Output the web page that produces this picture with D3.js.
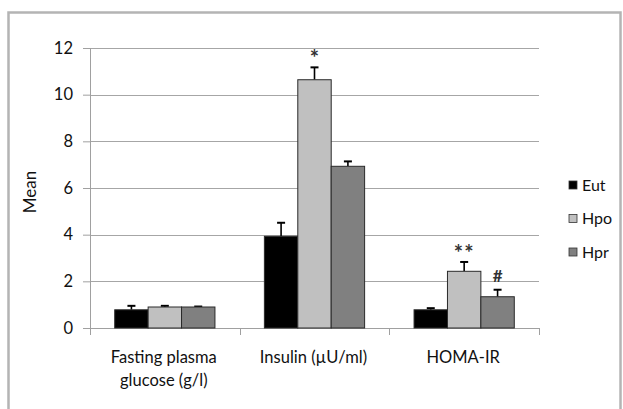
<!DOCTYPE html>
<html>
<head>
<meta charset="utf-8">
<script src="https://cdn.jsdelivr.net/npm/d3@7"></script>
<style>
  body { margin: 0; background: #fff; }
  svg { display: block; }
</style>
</head>
<body>
<div id="chart"></div>
<script>
  // data
  const categories = ["Fasting plasma glucose (g/l)", "Insulin (\u00b5U/ml)", "HOMA-IR"];
  const categoryLines = [["Fasting plasma", "glucose (g/l)"], ["Insulin (\u00b5U/ml)"], ["HOMA-IR"]];
  const seriesNames = ["Eut", "Hpo", "Hpr"];
  const eutMeans = [0.78, 3.93, 0.78];
  const hpoMeans = [0.90, 10.64, 2.43];
  const hprMeans = [0.90, 6.93, 1.34];
  const eutErr = [0.17, 0.58, 0.07];
  const hpoErr = [0.05, 0.53, 0.40];
  const hprErr = [0.02, 0.21, 0.30];
  const yTicks = [0, 2, 4, 6, 8, 10, 12];
  // significance marks: [category index, series index, label]
  const marks = [[1, 1, "*"], [2, 1, "**"], [2, 2, "#"]];

  // config
  const width = 623;
  const height = 409;
  const margin = { top: 48, bottom: 81, left: 90, right: 84 };
  const colors = ["#000000", "#c0c0c0", "#808080"];
  const font = "Lato, 'Open Sans', sans-serif";

  const means = [eutMeans, hpoMeans, hprMeans];
  const errs = [eutErr, hpoErr, hprErr];
  const rows = [];
  categories.forEach((c, ci) => {
    seriesNames.forEach((s, si) => {
      rows.push({ cat: c, ci: ci, series: s, si: si, value: means[si][ci], err: errs[si][ci] });
    });
  });

  // scales
  const x0 = d3.scaleBand()
    .domain(categories)
    .range([margin.left, width - margin.right])
    .paddingInner(0);

  const x1 = d3.scaleBand()
    .domain(seriesNames)
    .range([0, x0.bandwidth()])
    .paddingInner(0)
    .paddingOuter(0.74);

  const y = d3.scaleLinear()
    .domain([0, 12])
    .range([height - margin.bottom, margin.top]);

  const svg = d3.select("#chart")
    .append("svg")
    .attr("width", width)
    .attr("height", height);

  // frame
  svg.append("rect")
    .attr("x", 8.5)
    .attr("y", 12.5)
    .attr("width", 612)
    .attr("height", 420)
    .attr("fill", "none")
    .attr("stroke", "#b4b4b4")
    .attr("stroke-width", 2.5);

  // gridlines
  svg.append("g")
    .selectAll("line")
    .data(yTicks.filter(d => d > 0))
    .join("line")
    .attr("x1", margin.left)
    .attr("x2", width - margin.right)
    .attr("y1", d => Math.round(y(d)) + 0.5)
    .attr("y2", d => Math.round(y(d)) + 0.5)
    .attr("stroke", "#a6a6a6")
    .attr("stroke-width", 1.2);

  // y axis
  const yAxis = d3.axisLeft(y).tickValues(yTicks).tickSize(7).tickPadding(10);
  svg.append("g")
    .attr("transform", "translate(" + margin.left + ",0)")
    .call(yAxis)
    .call(g => g.select(".domain").attr("stroke", "#a0a0a0").attr("d", `M0.5,${y(12)}V${y(0)}`))
    .call(g => g.selectAll(".tick line").attr("stroke", "#a0a0a0"))
    .call(g => g.selectAll(".tick text")
      .attr("fill", "#111")
      .style("font-family", font)
      .style("font-size", "16.5px"));

  // x axis
  const xAxis = d3.axisBottom(x0).tickSize(0).tickFormat("");
  svg.append("g")
    .attr("transform", "translate(0," + y(0) + ")")
    .call(xAxis)
    .call(g => g.select(".domain").attr("stroke", "#a0a0a0").attr("d", `M${margin.left - 7},0.5H${width - margin.right}`));

  // x tick marks at category boundaries
  const bounds = categories.map(c => x0(c)).concat([x0(categories[categories.length - 1]) + x0.bandwidth()]);
  svg.append("g")
    .selectAll("line")
    .data(bounds)
    .join("line")
    .attr("x1", d => Math.round(d) + 0.5)
    .attr("x2", d => Math.round(d) + 0.5)
    .attr("y1", y(0))
    .attr("y2", y(0) + 7)
    .attr("stroke", "#a0a0a0");

  // category labels
  svg.append("g")
    .selectAll("text")
    .data(categories)
    .join("text")
    .attr("x", d => x0(d) + x0.bandwidth() / 2 - 1)
    .attr("y", y(0) + 35)
    .attr("text-anchor", "middle")
    .style("font-family", font)
    .style("font-size", "16.5px")
    .style("fill", "#111")
    .each(function (d, i) {
      d3.select(this).selectAll("tspan")
        .data(categoryLines[i])
        .join("tspan")
        .attr("x", x0(d) + x0.bandwidth() / 2 - 1)
        .attr("dy", (t, j) => j === 0 ? 0 : 23)
        .text(t => t);
    });

  // y title
  svg.append("text")
    .attr("transform", "translate(36," + (y(6) + 4) + ") rotate(-90)")
    .attr("text-anchor", "middle")
    .style("font-family", font)
    .style("font-size", "17px")
    .style("fill", "#111")
    .text("Mean");

  // error bars (drawn first, bar covers lower half)
  const bx = d => x0(d.cat) + x1(d.series);
  const errG = svg.append("g");
  errG.selectAll("line.stem")
    .data(rows)
    .join("line")
    .attr("class", "stem")
    .attr("x1", d => bx(d) + x1.bandwidth() / 2)
    .attr("x2", d => bx(d) + x1.bandwidth() / 2)
    .attr("y1", d => y(d.value))
    .attr("y2", d => y(d.value + d.err))
    .attr("stroke", "#000")
    .attr("stroke-width", 1.6);
  errG.selectAll("line.cap")
    .data(rows)
    .join("line")
    .attr("class", "cap")
    .attr("x1", d => bx(d) + x1.bandwidth() / 2 - 4)
    .attr("x2", d => bx(d) + x1.bandwidth() / 2 + 4)
    .attr("y1", d => y(d.value + d.err))
    .attr("y2", d => y(d.value + d.err))
    .attr("stroke", "#000")
    .attr("stroke-width", 2);

  // bars
  svg.append("g")
    .selectAll("rect")
    .data(rows)
    .join("rect")
    .attr("x", d => bx(d))
    .attr("y", d => y(d.value))
    .attr("width", x1.bandwidth())
    .attr("height", d => y(0) - y(d.value))
    .attr("fill", d => colors[d.si])
    .attr("stroke", "#2a2a2a")
    .attr("stroke-width", 1);

  // significance marks
  svg.append("g")
    .selectAll("text")
    .data(marks)
    .join("text")
    .attr("x", d => x0(categories[d[0]]) + x1(seriesNames[d[1]]) + x1.bandwidth() / 2)
    .attr("y", d => y(means[d[1]][d[0]] + errs[d[1]][d[0]]) - (d[2] === "#" ? 8 : 1))
    .attr("text-anchor", "middle")
    .style("font-family", font)
    .style("font-size", d => d[2] === "#" ? "17px" : "22px")
    .style("font-weight", "bold")
    .style("letter-spacing", d => d[2] === "**" ? "1px" : "0px")
    .style("fill", "#333")
    .text(d => d[2]);

  // legend
  const legend = svg.append("g")
    .attr("transform", "translate(569,180)");
  const item = legend.selectAll("g")
    .data(seriesNames)
    .join("g")
    .attr("transform", (d, i) => "translate(0," + i * 33.5 + ")");
  item.append("rect")
    .attr("width", 8)
    .attr("height", 8)
    .attr("y", 1)
    .attr("fill", (d, i) => colors[i])
    .attr("stroke", "#333")
    .attr("stroke-width", 0.8);
  item.append("text")
    .attr("x", 13)
    .attr("y", 10.5)
    .style("font-family", font)
    .style("font-size", "16px")
    .style("fill", "#111")
    .text(d => d);
</script>
</body>
</html>
